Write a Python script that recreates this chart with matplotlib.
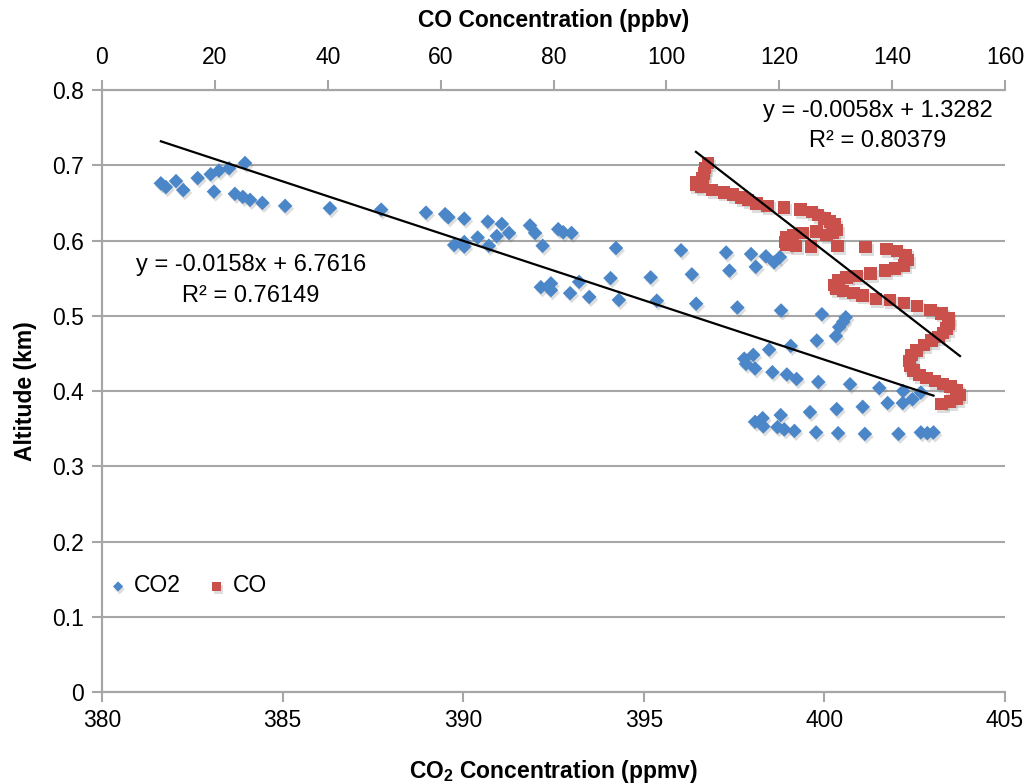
import numpy as np
import matplotlib
matplotlib.use("Agg")
import matplotlib.pyplot as plt
import matplotlib.patheffects as pe

plt.rcParams['font.family'] = ['Liberation Sans', 'DejaVu Sans']
plt.rcParams['mathtext.fontset'] = 'custom'
plt.rcParams['mathtext.rm'] = 'Liberation Sans'
plt.rcParams['mathtext.bf'] = 'Liberation Sans:bold'

# CO2 profile (ppmv vs km)
co2_conc = [381.63, 381.77, 382.05, 382.25, 382.65, 383.01, 383.10, 383.24, 383.52, 383.68,
            383.96, 383.90, 384.10, 384.44, 385.07, 386.31, 387.73, 388.97, 389.50, 389.59,
            390.03, 390.68, 391.07, 391.85, 392.63, 392.77, 393.00, 391.99, 391.27, 390.93,
            390.40, 390.03, 389.75, 390.03, 390.71, 392.20, 394.23, 396.03, 396.33, 395.19,
            394.08, 393.21, 392.43, 392.43, 392.15, 392.96, 393.49, 394.31, 395.36, 396.45,
            397.28, 397.97, 398.38, 398.77, 398.61, 398.10, 397.37, 397.59, 398.80, 399.93,
            400.59, 400.52, 400.41, 400.32, 399.79, 399.07, 398.47, 398.03, 397.78, 397.83,
            398.08, 398.56, 398.96, 399.23, 399.83, 400.71, 401.52, 402.18, 402.67, 402.44,
            402.17, 401.75, 401.06, 400.34, 399.60, 398.79, 398.29, 398.08, 398.31, 398.70,
            398.89, 399.17, 399.77, 400.38, 401.12, 402.05, 402.67, 402.85, 403.02]
co2_alt = [0.676, 0.671, 0.679, 0.667, 0.683, 0.688, 0.665, 0.693, 0.696, 0.662,
           0.703, 0.658, 0.654, 0.650, 0.646, 0.643, 0.641, 0.637, 0.635, 0.631,
           0.629, 0.625, 0.622, 0.620, 0.615, 0.611, 0.610, 0.610, 0.610, 0.606,
           0.604, 0.598, 0.594, 0.592, 0.593, 0.593, 0.590, 0.587, 0.555, 0.551,
           0.550, 0.545, 0.543, 0.534, 0.538, 0.530, 0.525, 0.521, 0.520, 0.516,
           0.584, 0.582, 0.579, 0.578, 0.571, 0.565, 0.560, 0.511, 0.507, 0.502,
           0.498, 0.492, 0.485, 0.473, 0.467, 0.460, 0.455, 0.448, 0.443, 0.436,
           0.430, 0.425, 0.422, 0.416, 0.412, 0.409, 0.404, 0.400, 0.398, 0.389,
           0.384, 0.384, 0.379, 0.376, 0.372, 0.368, 0.364, 0.359, 0.353, 0.352,
           0.349, 0.347, 0.345, 0.344, 0.343, 0.343, 0.345, 0.344, 0.345]

# CO profile (ppbv vs km)
co_conc = [107.42, 106.84, 106.66, 106.43, 105.37, 105.24, 106.25, 108.13, 110.21, 111.85,
           113.34, 114.51, 116.00, 117.95, 120.89, 123.79, 125.85, 126.91, 127.98, 128.99,
           129.87, 130.17, 129.46, 128.40, 126.63, 124.15, 122.48, 121.31, 121.01, 121.19,
           122.96, 125.62, 130.35, 135.31, 139.03, 140.91, 142.40, 142.86, 142.10, 140.50,
           138.73, 136.20, 133.72, 131.94, 130.46, 129.70, 130.17, 131.34, 133.12, 134.78,
           137.14, 139.62, 142.10, 144.45, 146.83, 148.78, 149.95, 150.07, 149.66, 149.06,
           148.18, 147.00, 145.64, 144.35, 143.46, 143.04, 143.16, 143.75, 144.81, 146.12,
           147.59, 149.06, 150.37, 151.43, 152.02, 151.43, 150.25, 148.78]
co_alt = [0.703, 0.696, 0.689, 0.683, 0.678, 0.674, 0.671, 0.667, 0.664, 0.661,
          0.657, 0.654, 0.649, 0.646, 0.644, 0.641, 0.638, 0.634, 0.629, 0.625,
          0.621, 0.614, 0.610, 0.607, 0.612, 0.610, 0.607, 0.604, 0.598, 0.594,
          0.593, 0.592, 0.593, 0.591, 0.589, 0.586, 0.581, 0.574, 0.567, 0.563,
          0.560, 0.556, 0.553, 0.551, 0.547, 0.541, 0.536, 0.533, 0.530, 0.527,
          0.522, 0.521, 0.517, 0.513, 0.508, 0.503, 0.497, 0.490, 0.483, 0.477,
          0.472, 0.467, 0.461, 0.454, 0.448, 0.440, 0.433, 0.427, 0.421, 0.417,
          0.413, 0.409, 0.406, 0.401, 0.395, 0.390, 0.386, 0.383]

# linear fits shown on the chart
co2_fit = (-0.0158, 6.7616)
co_fit = (-0.0058, 1.3282)

blue = '#4A86C8'
red = '#C9504B'
grid_col = '#A6A6A6'
fs = 16.5

fig = plt.figure(figsize=(10.27, 7.84), dpi=100)
ax = fig.add_axes([0.0993, 0.1173, 0.8793, 0.7679])
ax2 = ax.twiny()

shadow = [pe.SimplePatchShadow(offset=(1.2, -2.0), shadow_rgbFace='#666666', alpha=0.22), pe.Normal()]

ax.scatter(co2_conc, co2_alt, marker='D', s=55, color=blue, edgecolors='none',
           zorder=3, label='CO2', path_effects=shadow)
ax2.scatter(co_conc, co_alt, marker='s', s=80, color=red, edgecolors='none',
            zorder=3, label='CO', path_effects=shadow)

# trend lines
xl = np.array([min(co2_conc), max(co2_conc)])
ax.plot(xl, co2_fit[0] * xl + co2_fit[1], color='black', lw=1.6, zorder=4)
xl2 = np.array([min(co_conc), max(co_conc)])
ax2.plot(xl2, co_fit[0] * xl2 + co_fit[1], color='black', lw=1.6, zorder=4)

ax.set_xlim(380, 405)
ax.set_ylim(0, 0.8)
ax2.set_xlim(0, 160)
ax.set_xticks(np.arange(380, 406, 5))
ax.set_yticks(np.arange(0, 0.81, 0.1))
ax.set_yticklabels(['0'] + ['%.1f' % v for v in np.arange(0.1, 0.81, 0.1)])
ax2.set_xticks(np.arange(0, 161, 20))

for a in (ax, ax2):
    for s in a.spines.values():
        s.set_color(grid_col)
        s.set_linewidth(1.5)
    a.spines['right'].set_visible(False)
    a.tick_params(colors=grid_col, labelcolor='black', labelsize=fs, width=1.5, length=7, direction='out')
ax.tick_params(axis='x', pad=5)
ax.tick_params(axis='y', pad=6)
ax2.tick_params(axis='x', pad=8)

ax.yaxis.grid(True, color=grid_col, lw=1.5)
ax.set_axisbelow(True)

ax.set_xlabel('CO$_\\mathbf{2}$ Concentration (ppmv)', fontsize=fs, fontweight='bold', labelpad=19)
ax.set_ylabel('Altitude (km)', fontsize=fs, fontweight='bold', labelpad=11)
ax2.set_xlabel('CO Concentration (ppbv)', fontsize=fs, fontweight='bold', labelpad=14)

tfs = 17
ax.text(251 / 1027, 1 - 265 / 784, 'y = -0.0158x + 6.7616', transform=fig.transFigure,
        ha='center', va='center', fontsize=tfs)
ax.text(251 / 1027, 1 - 296 / 784, 'R\u00b2 = 0.76149', transform=fig.transFigure,
        ha='center', va='center', fontsize=tfs)
ax.text(993 / 1027, 1 - 111 / 784, 'y = -0.0058x + 1.3282', transform=fig.transFigure,
        ha='right', va='center', fontsize=tfs)
ax.text(878 / 1027, 1 - 141 / 784, 'R\u00b2 = 0.80379', transform=fig.transFigure,
        ha='center', va='center', fontsize=tfs)

h1, l1 = ax.get_legend_handles_labels()
h2, l2 = ax2.get_legend_handles_labels()
leg = ax.legend(h1 + h2, l1 + l2, loc='center left', bbox_to_anchor=(86 / 1027, 1 - 586 / 784),
                bbox_transform=fig.transFigure, ncol=2, frameon=False, fontsize=fs,
                handletextpad=0.2, columnspacing=1.05, markerscale=0.7, handlelength=1.0)

fig.savefig('out.png', dpi=100, facecolor='white')
